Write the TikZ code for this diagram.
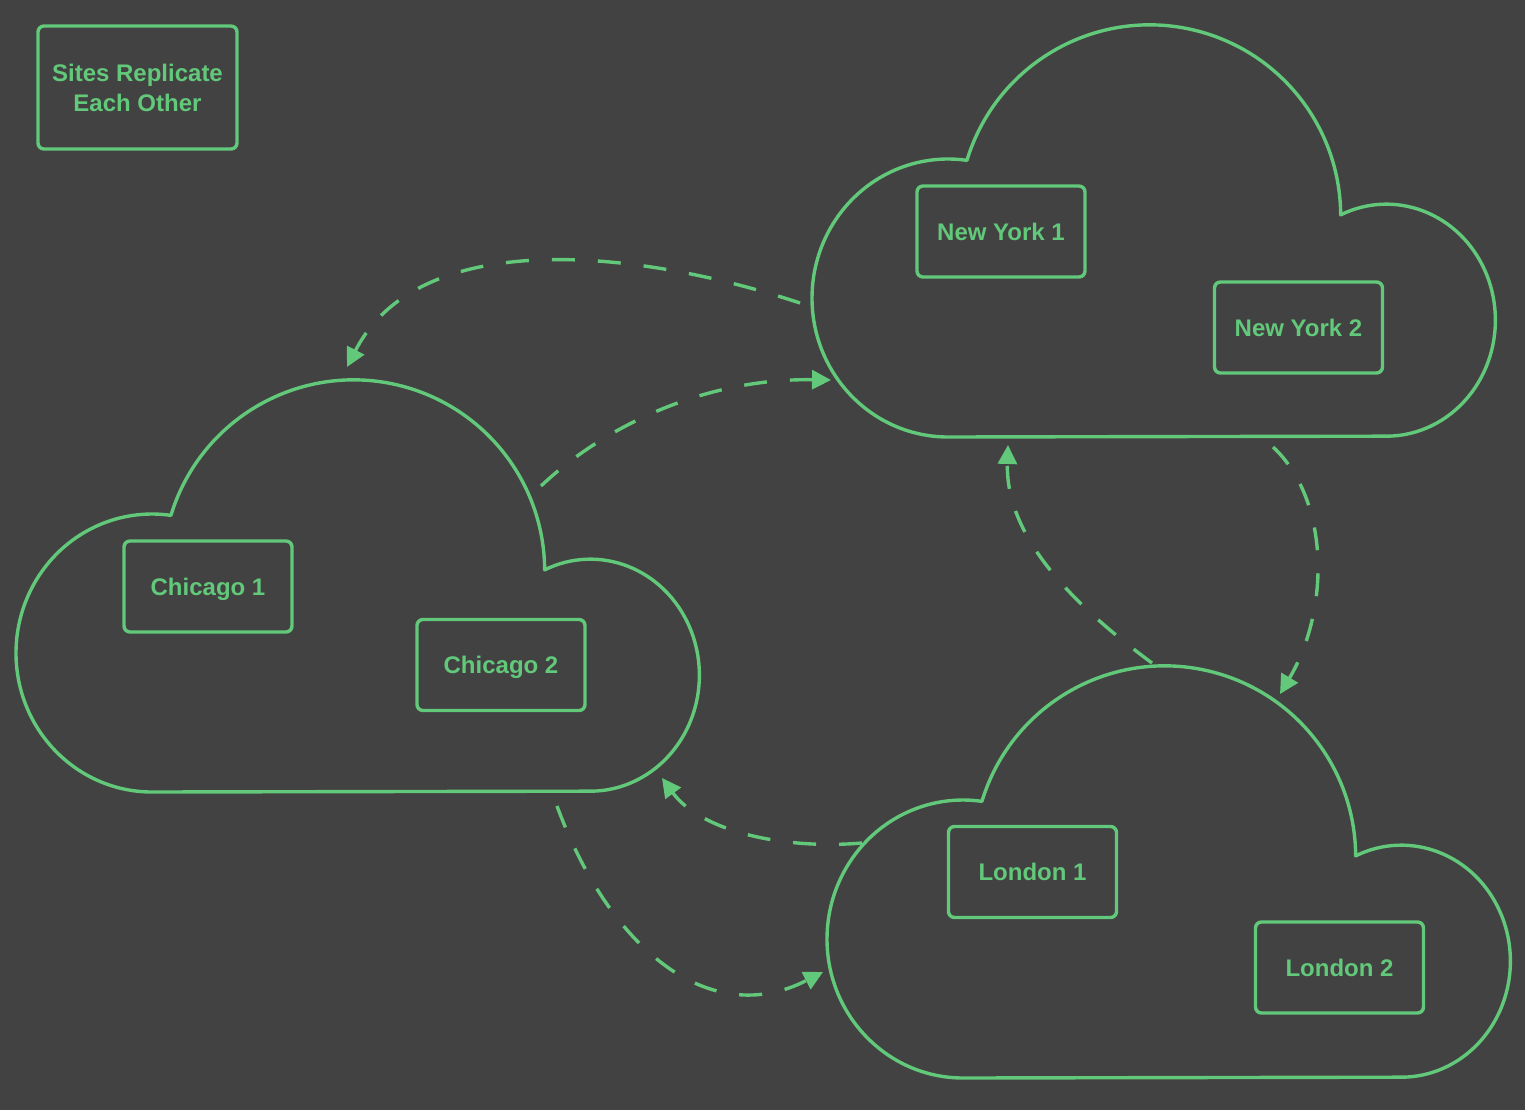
\documentclass[tikz,border=0pt]{standalone}
\usepackage{fontspec}
\setmainfont{Liberation Sans}
\usetikzlibrary{arrows.meta}
\definecolor{bg}{HTML}{424242}
\definecolor{gr}{HTML}{62C87A}
\newcommand\drawcloudat[1]{%
  \draw[cloudline, shift={#1}] (135,411)
    arc[start angle=90, end angle=278, x radius=136, y radius=139]
    arc[start angle=196.9, end angle=359.7, radius=191]
    arc[start angle=245.2, end angle=450, x radius=109, y radius=116]
    -- cycle;}
\begin{document}
\begin{tikzpicture}[x=1pt,y=-1pt,
  cloudline/.style={draw=gr, line width=3.4pt, line join=round},
  box/.style={draw=gr, line width=3.4pt, rounded corners=6pt, minimum width=168pt, minimum height=91pt,
    text=gr, font=\bfseries\fontsize{24}{30}\selectfont, inner sep=0pt, text height=17pt, text depth=0pt},
  titlebox/.style={draw=gr, line width=3.4pt, rounded corners=6pt, minimum width=199pt, minimum height=123pt,
    text=gr, font=\bfseries\fontsize{24}{30}\selectfont, inner sep=0pt, align=center},
  repl/.style={draw=gr, line width=3.4pt, dash pattern=on 23pt off 23pt,
    -{Triangle[length=19pt,width=19pt]}}]
\fill[bg] (0,0) rectangle (1525,1110);
\useasboundingbox (0,0) rectangle (1525,1110);

% clouds
\drawcloudat{(813,26)}
\drawcloudat{(17,381)}
\drawcloudat{(828,667)}

% boxes
\node[titlebox] (title) at (137.5,87.5) {Sites Replicate\\Each Other};
\node[box] (ny1) at (1001,231.5) {New York 1};
\node[box] (ny2) at (1298.5,327.5) {New York 2};
\node[box] (ch1) at (208,586.5) {Chicago 1};
\node[box] (ch2) at (501,665) {Chicago 2};
\node[box] (ld1) at (1032.5,872) {London 1};
\node[box] (ld2) at (1339.5,967.5) {London 2};

% connector ends on the clouds
\coordinate (nyW) at (800,303);
\coordinate (nyWin) at (831,380);
\coordinate (nyS) at (1273,447);
\coordinate (nySin) at (1008,445);
\coordinate (chTop) at (347,367);
\coordinate (chE) at (541,486);
\coordinate (chS) at (557,806);
\coordinate (chSEin) at (662,778);
\coordinate (ldTop) at (1152,663);
\coordinate (ldTopin) at (1280,694);
\coordinate (ldW) at (862,843);
\coordinate (ldWin) at (823,972);

% replication connectors
\draw[repl] (nyW) .. controls (640,250) and (420,225) .. (chTop);
\draw[repl] (chE) .. controls (600,430) and (700,378) .. (nyWin);
\draw[repl] (nyS) .. controls (1330,500) and (1330,610) .. (ldTopin);
\draw[repl] (ldTop) .. controls (1080,610) and (1005,540) .. (nySin);
\draw[repl] (ldW) .. controls (780,850) and (700,830) .. (chSEin);
\draw[repl] (chS) .. controls (610,950) and (710,1030) .. (ldWin);
\end{tikzpicture}
\end{document}
